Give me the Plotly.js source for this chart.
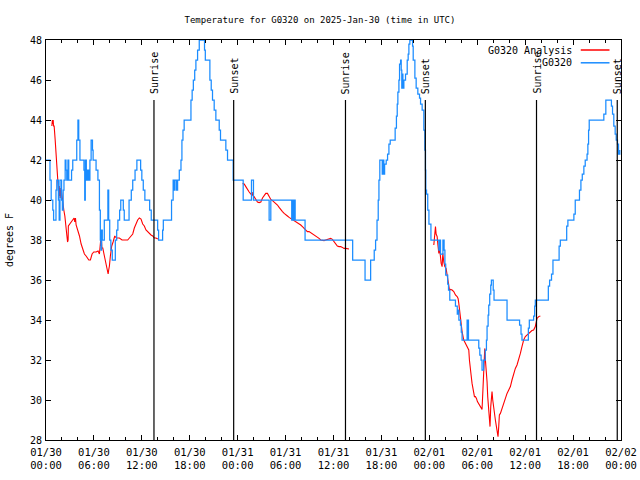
<!DOCTYPE html>
<html>
<head>
<meta charset="utf-8">
<script src="https://cdn.plot.ly/plotly-3.0.1.min.js"></script>
<style>html,body{margin:0;padding:0;background:#fff;}#chart{width:640px;height:480px;}</style>
</head>
<body>
<div id="chart"></div>
<script>
// Hours after 01/30 00:00 UTC
const tickHours = [0, 6, 12, 18, 24, 30, 36, 42, 48, 54, 60, 66, 72];
const tickLabels = ["01/30<br>00:00", "01/30<br>06:00", "01/30<br>12:00", "01/30<br>18:00",
  "01/31<br>00:00", "01/31<br>06:00", "01/31<br>12:00", "01/31<br>18:00",
  "02/01<br>00:00", "02/01<br>06:00", "02/01<br>12:00", "02/01<br>18:00", "02/02<br>00:00"];

const sunLabels = ["Sunrise", "Sunset", "Sunrise", "Sunset", "Sunrise", "Sunset"];
const sunHours = [13.52, 23.5, 37.5, 47.5, 61.42, 71.53];

// G0320 observations (step changes)
const obsHours = [0.0,0.5,0.65,0.85,0.95,1.25,1.35,1.55,1.65,1.75,1.95,2.05,2.15,2.25,2.4,2.5,2.6,2.75,2.85,3.2,3.35,3.85,4.0,4.1,4.25,4.75,4.85,4.92,5.05,5.2,5.35,5.5,5.65,5.82,5.9,6.27,6.5,6.69,6.8,6.88,6.96,7.05,7.3,7.75,7.85,7.98,8.12,8.3,8.68,8.85,9.0,9.22,9.36,9.52,9.68,9.8,10.4,10.68,10.86,11.15,11.38,11.85,12.0,12.18,12.38,12.98,13.18,13.98,14.1,14.6,14.69,
  15.72,15.92,16.05,16.15,16.35,16.48,16.69,16.9,17.02,17.15,17.3,18.15,18.3,18.45,18.62,18.77,18.98,19.19,19.85,19.95,20.52,20.69,20.85,21.06,21.27,21.69,21.85,22.52,22.73,23.44,
  24.69,25.73,25.98,27.94,28.15,30.77,30.9,30.98,31.1,31.2,32.44,38.4,39.95,40.65,41.1,41.27,41.45,41.6,41.69,41.8,42.1,42.2,42.3,42.4,42.6,42.77,42.94,43.1,43.72,43.88,43.98,44.06,44.19,44.27,44.4,44.48,44.55,44.62,44.69,44.81,45.02,45.23,45.35,45.44,45.56,45.9,45.98,46.19,46.35,46.56,46.77,46.9,47.1,47.31,47.44,47.52,47.56,47.65,47.8,47.95,48.2,
  49.19,49.3,49.4,49.7,49.85,49.95,50.05,50.3,50.4,50.56,51.27,51.5,51.6,51.7,51.9,52.0,52.1,52.73,52.8,52.85,52.9,54.19,54.32,54.48,54.6,54.8,55.0,55.15,55.23,55.36,55.44,55.56,55.69,55.77,56.0,56.1,57.73,59.3,59.48,59.6,60.4,60.52,61.06,61.19,61.27,62.9,63.06,63.3,63.48,64.25,64.4,65.2,65.35,66.1,66.27,66.8,66.98,67.15,67.35,67.52,67.75,67.85,67.94,68.02,69.85,70.1,70.8,70.94,71.1,71.27,71.4,71.56,71.69,71.85];
const obsTemps = [42,41,40,39.5,39,40.5,41,40,39,41,40,39.5,40.5,41,42,41.5,41,42,41,41.5,42,43,44,43,42,41.5,40,42,41,41.5,41,42,43,42.5,42,41.5,41,39.5,38,37.5,38.5,38,39,40.5,39,38,37.5,37,38,38.5,39,39.5,40,40,39.5,39,40,40.5,41,41.5,42,41.5,41,40.5,40,39.5,39,38.5,38,38.5,39,
  40,41,40.5,41,40.5,41,41.5,42,43,43.5,44,45,45.5,46,46.5,47,47.5,48,47.5,47,46,45.5,45,44.5,44,43.5,43,42.5,42,41,
  40,41,40,39,40,39,40,39,40,39,38,37,36,37,37.5,38,39,40,41,42,41.3,42,41.3,41.8,42,42.3,42.8,43,43.6,44.2,44.8,45.4,46,46.8,47,46.5,45.6,46.3,45.6,46,46.3,47,47.3,47.8,48,47.7,47,46.1,45.6,45.3,45.1,44.8,44.5,43.5,42.5,41.5,40.5,40.3,39.5,38.8,38,
  37.5,38,37.3,38,37.5,36.8,36.25,35.8,35.5,35,34.7,34.3,34.5,34,33.75,33.4,33,34,33,34,33,32.6,32.25,32,31.5,32,32.5,33,33.7,34.25,34.75,35.3,35.75,36,35.5,35,34,33.75,33.3,33,33.6,34,34.2,34.7,35,35.7,36,36.3,37,37.7,38,38.7,39,39.3,40,40.5,41,41.3,41.7,42,42.3,42.8,43.5,44,44.3,45,44.7,44.3,43.7,43.3,43,42.8,42.3,42.5];

// G0320 Analysis (three runs)
const anaHours1 = [0.73,0.8,0.86,0.9,0.94,1.02,1.15,1.27,1.4,1.48,1.56,1.62,1.66,1.72,1.78,1.85,1.92,2.02,2.11,2.23,2.36,2.44,2.52,2.62,2.7,2.77,2.8,3.0,3.27,3.52,3.6,3.69,3.77,3.98,4.19,4.4,4.61,4.81,5.02,5.36,5.56,5.77,5.98,6.27,6.52,6.69,6.78,6.85,6.9,6.95,7.0,7.11,7.31,7.52,7.69,7.78,7.85,7.94,8.06,8.23,8.4,8.61,8.81,9.19,9.52,10.02,10.23,10.44,10.86,11.06,11.27,11.48,11.69,11.9,12.11,12.31,12.52,12.73,12.94,13.15,13.36,13.56,13.77,14.0];
const anaTemps1 = [43.7,44,43.8,44,43.7,43.7,43,42.3,41.7,41.2,40.7,40.1,40.7,40.2,40.6,40.1,40.5,40.1,39.8,39.5,39.2,38.75,38.5,38.2,37.9,38.0,38.7,38.8,38.95,39.1,38.9,39.1,38.75,38.5,38.2,37.8,37.5,37.3,37.2,37.0,37.0,37.3,37.4,37.4,37.45,37.3,37.7,38.0,37.7,38.0,37.6,37.6,37.2,36.75,36.5,36.3,36.5,36.7,37.2,37.7,37.9,38.2,38.1,38.1,38.0,38.0,38.0,38.1,38.3,38.6,38.8,39.0,39.1,39.05,38.8,38.7,38.5,38.4,38.3,38.25,38.2,38.1,38.1,38.05];
const anaHours2 = [24.61,24.82,25.02,25.23,25.44,25.65,25.86,25.9,25.95,26.06,26.27,26.48,26.69,26.9,27.11,27.32,27.52,27.73,27.94,28.15,28.36,28.56,28.77,28.98,29.19,29.4,29.61,29.82,30.02,30.23,30.44,30.65,30.86,31.06,31.27,31.48,31.69,31.9,32.11,32.32,32.52,32.73,32.94,33.15,33.36,33.56,33.77,33.98,34.19,34.4,34.61,34.82,35.02,35.23,35.44,35.65,35.86,36.06,36.27,36.48,36.69,36.9,37.11,37.31,37.52,37.73,37.94];
const anaTemps2 = [40.83,40.8,40.67,40.5,40.4,40.3,40.25,40.4,40.2,40.17,40.03,39.9,39.87,39.9,40.1,40.25,40.33,40.33,40.2,40.03,39.97,39.9,39.83,39.75,39.63,39.5,39.42,39.33,39.28,39.2,39.13,39.08,39.03,38.97,38.9,38.87,38.83,38.75,38.67,38.58,38.47,38.42,38.42,38.37,38.3,38.25,38.2,38.17,38.08,38.0,37.97,37.97,38.0,38.03,38.08,38.08,38.03,37.92,37.8,37.7,37.67,37.67,37.63,37.58,37.58,37.55,37.55];
const anaHours3 = [48.56,48.69,48.77,48.85,48.98,49.06,49.19,49.27,49.35,49.48,49.6,49.69,49.81,49.94,50.1,50.23,50.35,50.44,50.52,50.65,50.85,51.06,51.27,51.48,51.6,51.69,51.77,51.9,52.02,52.1,52.31,52.52,52.65,52.81,52.94,53.02,53.15,53.23,53.35,53.48,53.65,53.77,53.9,54.02,54.19,54.4,54.6,54.69,54.77,54.85,54.94,55.02,55.15,55.23,55.31,55.44,55.52,55.6,55.69,55.77,55.85,55.94,56.06,56.19,56.27,56.4,56.52,56.6,56.69,56.77,56.9,57.1,57.31,57.52,57.73,57.94,58.15,58.35,58.56,58.77,58.98,59.19,59.4,59.6,59.81,60.02,60.23,60.44,60.65,60.85,61.06,61.27,61.4,61.48,61.69,61.9];
const anaTemps3 = [37.75,38.6,38.67,38.3,38.17,37.8,37.33,37.67,37.17,36.83,36.67,37.33,36.9,36.67,36.58,36.25,36.0,35.83,35.5,35.53,35.5,35.42,35.25,35.17,35.08,34.83,34.5,34.17,33.75,33.42,33.0,32.83,32.67,32.58,32.5,32.0,31.67,31.25,30.83,30.42,30.17,30.17,30.08,29.92,29.8,29.67,29.53,30.33,31.33,32.17,32.58,32.0,31.5,30.9,30.17,29.58,29.0,28.67,29.67,30.42,30.42,30.0,29.5,29.17,29.0,28.67,28.33,28.17,28.67,29.25,29.33,29.58,29.92,30.17,30.33,30.5,30.67,31.0,31.33,31.58,31.75,32.0,32.33,32.67,33.0,33.17,33.25,33.33,33.42,33.47,33.5,33.67,33.92,34.08,34.17,34.2];

const seriesNames = ["G0320 Analysis", "G0320"];
const seriesColors = ["#ff0000", "#1a8cff"];

const MONO = "DejaVu Sans Mono";
const traces = [
  {x: anaHours1, y: anaTemps1, type: "scatter", mode: "lines", line: {color: seriesColors[0], width: 1.1}, hoverinfo: "skip"},
  {x: anaHours2, y: anaTemps2, type: "scatter", mode: "lines", line: {color: seriesColors[0], width: 1.1}, hoverinfo: "skip"},
  {x: anaHours3, y: anaTemps3, type: "scatter", mode: "lines", line: {color: seriesColors[0], width: 1.1}, hoverinfo: "skip"},
  {x: obsHours, y: obsTemps, type: "scatter", mode: "lines", line: {color: seriesColors[1], width: 1.25, shape: "hv"}, hoverinfo: "skip"}
];

const shapes = sunHours.map(h => ({type: "line", xref: "x", yref: "y", x0: h, x1: h, y0: 28, y1: 45, line: {color: "#000", width: 1.2}}));
const annotations = sunLabels.map((t, i) => ({
  text: t, x: sunHours[i], y: 45.2, xref: "x", yref: "y", textangle: -90,
  xanchor: "center", yanchor: "bottom", showarrow: false, font: {family: MONO, size: 10, color: "#000"}
}));
// legend (text on the left, sample line on the right)
const legY = [0.975, 0.943];
seriesNames.forEach((n, i) => {
  annotations.push({text: n, x: 0.919, y: legY[i], xref: "paper", yref: "paper", xanchor: "right", yanchor: "middle",
    showarrow: false, font: {family: MONO, size: 10, color: "#000"}});
  shapes.push({type: "line", xref: "paper", yref: "paper", x0: 0.930, x1: 0.980, y0: legY[i], y1: legY[i],
    line: {color: seriesColors[i], width: 1.5}});
});

const layout = {
  width: 640, height: 480,
  margin: {l: 46, r: 19, t: 40, b: 40},
  paper_bgcolor: "#fff", plot_bgcolor: "#fff",
  showlegend: false,
  title: {text: "Temperature for G0320 on 2025-Jan-30 (time in UTC)", x: 0.5, xanchor: "center", y: 0.958, yanchor: "middle",
    font: {family: MONO, size: 9, color: "#000"}},
  xaxis: {range: [0, 72], tickmode: "array", tickvals: tickHours, ticktext: tickLabels,
    ticks: "inside", ticklen: 5, tickcolor: "#000", showline: true, linecolor: "#000", linewidth: 1, mirror: "ticks",
    showgrid: false, zeroline: false, ticklabelstandoff: 2, tickfont: {family: MONO, size: 10.5, color: "#000"},
    minor: {tickmode: "linear", tick0: 0, dtick: 2, ticks: "inside", ticklen: 3, tickcolor: "#000", showgrid: false}},
  yaxis: {range: [28, 48], tickmode: "linear", tick0: 28, dtick: 2,
    ticks: "inside", ticklen: 5, tickcolor: "#000", showline: true, linecolor: "#000", linewidth: 1, mirror: "ticks",
    showgrid: false, zeroline: false, ticklabelstandoff: 1, tickfont: {family: MONO, size: 10, color: "#000"},
    title: {text: "degrees F", standoff: 14, font: {family: MONO, size: 10, color: "#000"}}},
  shapes: shapes,
  annotations: annotations
};

Plotly.newPlot("chart", traces, layout, {staticPlot: true, displayModeBar: false});
</script>
</body>
</html>
